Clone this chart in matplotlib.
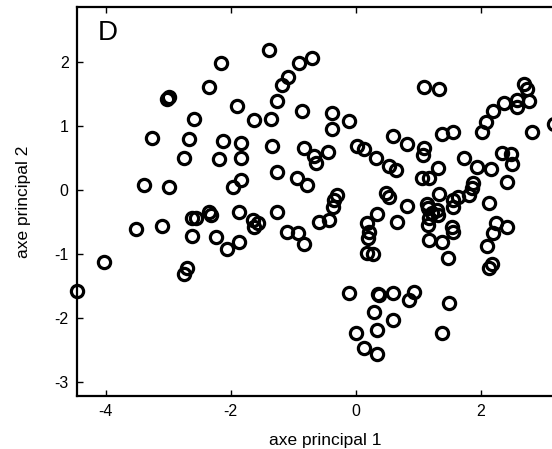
import numpy as np
import matplotlib
matplotlib.use("Agg")
import matplotlib.pyplot as plt

# scores on the first two principal axes
pc1 = [-4.46, -4.03, -3.52, -3.10, -2.62, -2.56, -2.32, -2.34, -2.62, -2.24,
       -2.06, -1.86, -1.86, -2.70, -2.74, -2.16, -2.35, -3.02, -2.99, -1.90,
       -2.58, -3.26, -2.66, -2.13, -1.83, -2.74, -2.19, -1.83, -3.39, -2.99,
       -1.97, -1.83, -1.39, -0.90, -0.70, -1.09, -1.18, -1.26, -1.63, -1.36,
       -0.86, -0.38, -0.38, -0.11, 0.59, -1.34, -0.83, -0.67, -0.64, -0.45,
       0.02, 0.13, 0.32, 0.53, 0.64, -1.26, -0.94, -0.78, -0.30, -0.34,
       -0.37, 0.48, 0.54, 0.34, -1.26, -1.65, -1.57, -1.62, -1.10, -0.93,
       -0.82, -0.59, -0.42, 0.18, 0.22, 0.19, 0.18, 0.27, 0.66, -0.11,
       0.37, 0.59, 0.29, 0.59, 0.34, 0.00, 0.14, 0.34, 1.10, 1.34,
       2.70, 2.74, 2.78, 2.59, 2.58, 2.38, 2.19, 2.08, 2.02, 2.82,
       3.18, 1.38, 1.55, 0.82, 1.10, 1.07, 1.74, 1.94, 2.16, 2.34,
       2.48, 2.50, 2.42, 1.31, 1.06, 1.18, 1.87, 1.86, 1.82, 1.63,
       1.55, 1.33, 2.14, 0.82, 1.14, 1.30, 1.22, 1.55, 1.15, 1.31,
       1.18, 1.15, 1.18, 1.38, 1.54, 1.55, 1.47, 2.24, 2.42, 2.19,
       2.10, 2.18, 2.14, 0.94, 0.86, 1.50, 1.38, 0.36]
pc2 = [-1.58, -1.13, -0.61, -0.56, -0.44, -0.44, -0.39, -0.34, -0.72, -0.73,
       -0.92, -0.81, -0.34, -1.22, -1.31, 1.98, 1.61, 1.42, 1.45, 1.31,
       1.11, 0.81, 0.80, 0.77, 0.73, 0.50, 0.48, 0.50, 0.08, 0.05,
       0.05, 0.16, 2.19, 1.98, 2.06, 1.77, 1.64, 1.39, 1.09, 1.11,
       1.23, 1.20, 0.95, 1.08, 0.84, 0.69, 0.66, 0.53, 0.42, 0.59,
       0.69, 0.64, 0.50, 0.38, 0.31, 0.28, 0.19, 0.08, -0.08, -0.16,
       -0.27, -0.05, -0.11, -0.38, -0.34, -0.47, -0.52, -0.58, -0.66, -0.67,
       -0.84, -0.50, -0.47, -0.52, -0.66, -0.75, -0.98, -1.00, -0.50, -1.61,
       -1.64, -1.61, -1.91, -2.03, -2.19, -2.24, -2.47, -2.56, 1.61, 1.58,
       1.66, 1.58, 1.39, 1.41, 1.30, 1.36, 1.23, 1.06, 0.91, 0.91,
       1.03, 0.87, 0.91, 0.72, 0.66, 0.55, 0.50, 0.36, 0.33, 0.58,
       0.56, 0.41, 0.13, 0.34, 0.19, 0.19, 0.11, 0.03, -0.08, -0.11,
       -0.16, -0.06, -0.20, -0.25, -0.22, -0.31, -0.36, -0.27, -0.28, -0.39,
       -0.44, -0.55, -0.78, -0.81, -0.58, -0.66, -1.06, -0.52, -0.58, -0.67,
       -0.88, -1.16, -1.22, -1.59, -1.72, -1.77, -2.23, -1.63]

xticks = [-4, -2, 0, 2]
yticks = [-3, -2, -1, 0, 1, 2]

plt.rcParams['font.family'] = ['Liberation Sans', 'DejaVu Sans']
plt.rcParams['axes.unicode_minus'] = False  # plain hyphen minus like the original

fig = plt.figure(figsize=(5.52, 4.49), dpi=100)
# axes runs off the right edge of the picture, as in the original
ax = fig.add_axes([0.1395, 0.118, 0.901, 0.866])

ax.plot(pc1, pc2, 'o', mfc='none', mec='black', ms=8.8, mew=2.3, clip_on=False)

ax.set_xlim(-4.46, 3.5)
ax.set_ylim(-3.22, 2.86)
ax.set_xticks(xticks)
ax.set_yticks(yticks)
ax.tick_params(direction='in', length=4, width=1, top=True, right=False,
               labelsize=11.5, pad=6)
for s in ['left', 'bottom', 'top']:
    ax.spines[s].set_linewidth(1.6)
ax.spines['right'].set_visible(False)

ax.set_xlabel('axe principal 1', fontsize=12.5, labelpad=10)
ax.set_ylabel('axe principal 2', fontsize=12.5, labelpad=17)

ax.text(0.042, 0.933, 'D', transform=ax.transAxes, fontsize=20,
        ha='left', va='center')

fig.savefig('out.png', dpi=100)
